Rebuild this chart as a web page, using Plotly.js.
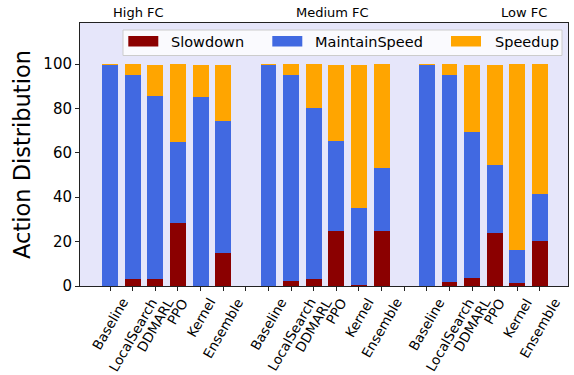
<!DOCTYPE html>
<html>
<head>
<meta charset="utf-8">
<script src="https://cdn.plot.ly/plotly-3.0.1.min.js"></script>
<style>html,body{margin:0;padding:0;background:#fff;}#chart{width:574px;height:375px;}</style>
</head>
<body>
<div id="chart"></div>
<script>
// ---- data ----
var groups = ['High FC', 'Medium FC', 'Low FC'];
var methods = ['Baseline', 'LocalSearch', 'DDMARL', 'PPO', 'Kernel', 'Ensemble'];
var seriesNames = ['Slowdown', 'MaintainSpeed', 'Speedup'];
var seriesColors = ['#8b0000', '#4169e1', '#ffa500'];
// values per group, method order as above (percent)
var slowdownHigh   = [0, 3.2, 3.2, 28.4, 0, 14.9];
var slowdownMedium = [0, 2.3, 3.2, 24.8, 0.3, 24.8];
var slowdownLow    = [0, 1.8, 3.6, 23.9, 1.4, 20.3];
var maintainHigh   = [99.5, 91.8, 82.4, 36.5, 85.1, 59.4];
var maintainMedium = [99.5, 92.7, 77.0, 40.5, 34.8, 28.4];
var maintainLow    = [99.5, 93.2, 65.8, 30.6, 14.8, 21.1];
var speedupHigh    = [0.5, 5.0, 13.9, 35.1, 14.4, 25.2];
var speedupMedium  = [0.5, 5.0, 19.8, 34.2, 64.4, 46.8];
var speedupLow     = [0.5, 5.0, 30.1, 45.0, 83.8, 58.6];
var yTicks = [0, 20, 40, 60, 80, 100];

// ---- build ----
var FONT = 'DejaVu Sans, Liberation Sans, sans-serif';
var slot = methods.length + 1; // one empty separator slot between groups
var xs = [], labels = [];
groups.forEach(function (g, gi) {
  methods.forEach(function (m, mi) { xs.push(gi * slot + mi); labels.push(m); });
});
var allTicks = [];
for (var t = 0; t < groups.length * slot - 1; t++) allTicks.push(t);

var seriesVals = [
  slowdownHigh.concat(slowdownMedium, slowdownLow),
  maintainHigh.concat(maintainMedium, maintainLow),
  speedupHigh.concat(speedupMedium, speedupLow)
];
var traces = seriesVals.map(function (v, i) {
  return {
    type: 'bar', x: xs, y: v, name: seriesNames[i], width: 0.7,
    marker: {color: seriesColors[i], line: {width: 0}},
    showlegend: false, hoverinfo: 'skip'
  };
});

var L = 80, R = 568, T = 23, B = 286;
function px(x) { return (x - L) / (R - L); }
function py(y) { return (B - y) / (B - T); }

var annotations = [];
xs.forEach(function (x, i) {
  annotations.push({
    x: x, xref: 'x', y: 0, yref: 'paper', yshift: -7,
    text: labels[i], showarrow: false, textangle: -60,
    xanchor: 'center', yanchor: 'top',
    font: {family: FONT, size: 13.5, color: '#000'}
  });
});
var groupLabelX = [1.24, 9.85, 18.3];
groups.forEach(function (g, gi) {
  annotations.push({
    x: groupLabelX[gi], xref: 'x', y: py(13), yref: 'paper',
    text: g, showarrow: false, xanchor: 'center', yanchor: 'middle',
    font: {family: FONT, size: 13, color: '#000'}
  });
});

// legend (drawn as a box with colour patches)
var shapes = [{
  type: 'rect', xref: 'paper', yref: 'paper',
  x0: px(123), x1: px(562), y0: py(55.5), y1: py(30),
  fillcolor: 'rgba(255,255,255,0.8)', line: {color: '#cccccc', width: 1}
}];
var patchX = [128.3, 272.3, 451];
var textX = [169, 313, 493];
seriesNames.forEach(function (n, i) {
  shapes.push({
    type: 'rect', xref: 'paper', yref: 'paper',
    x0: px(patchX[i]), x1: px(patchX[i] + 30), y0: py(46.5), y1: py(36),
    fillcolor: seriesColors[i], line: {width: 0}
  });
  annotations.push({
    x: px(textX[i]), xref: 'paper', y: py(42), yref: 'paper',
    text: n, showarrow: false, xanchor: 'left', yanchor: 'middle',
    font: {family: FONT, size: 14.5, color: '#000'}
  });
});

var layout = {
  width: 574, height: 375,
  margin: {l: L, r: 574 - R, t: T, b: 375 - B, pad: 0},
  paper_bgcolor: '#ffffff', plot_bgcolor: '#e6e6fa',
  barmode: 'stack', bargap: 0,
  font: {family: FONT, color: '#000'},
  xaxis: {
    range: [-1.33, 20.24], tickmode: 'array', tickvals: allTicks,
    showticklabels: false, ticks: 'outside', ticklen: 4, tickcolor: '#222', tickwidth: 1,
    showgrid: false, zeroline: false, showline: true, mirror: true,
    linecolor: '#222', linewidth: 1, fixedrange: true
  },
  yaxis: {
    range: [0, 118.5], tickmode: 'array', tickvals: yTicks,
    ticktext: yTicks.map(String),
    ticks: 'outside', ticklen: 4, tickcolor: '#222', tickwidth: 1,
    tickfont: {family: FONT, size: 15, color: '#000'},
    showgrid: false, zeroline: false, showline: true, mirror: true,
    linecolor: '#222', linewidth: 1,
    title: {text: 'Action Distribution', font: {family: FONT, size: 22.5, color: '#000'}, standoff: 6},
    automargin: false
  },
  showlegend: false,
  annotations: annotations,
  shapes: shapes
};

Plotly.newPlot('chart', traces, layout, {staticPlot: true, displayModeBar: false});
</script>
</body>
</html>
